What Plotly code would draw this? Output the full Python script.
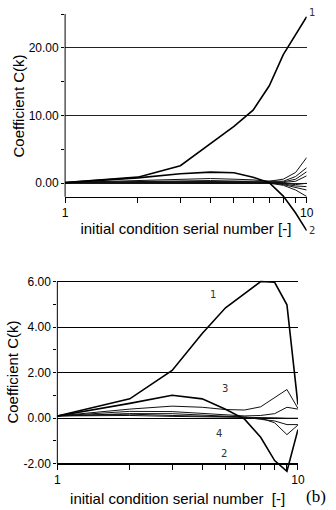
import plotly.graph_objects as go

k = [1, 2, 3, 4, 5, 6, 7, 8, 9, 10]

# Top chart (a) coefficients
top_thick = {
    "1": [0.1, 0.9, 2.6, 5.9, 8.4, 10.8, 14.4, 19.0, 22.0, 24.6],
    "2": [0.1, 0.8, 1.4, 1.65, 1.55, 0.9, 0.1, -1.9, -4.4, -7.0],
}
top_thin = [
    [0.1, 0.4, 0.6, 0.7, 0.6, 0.5, 0.3, 0.6, 1.6, 3.8],
    [0.1, 0.3, 0.4, 0.4, 0.3, 0.3, 0.2, 0.3, 1.0, 2.3],
    [0.1, 0.2, 0.3, 0.3, 0.3, 0.2, 0.2, 0.2, 0.6, 1.7],
    [0.1, 0.2, 0.2, 0.2, 0.2, 0.2, 0.1, 0.1, 0.3, 1.1],
    [0.1, 0.1, 0.1, 0.1, 0.1, 0.1, 0.1, 0.0, -0.2, 0.0],
    [0.1, 0.1, 0.1, 0.1, 0.1, 0.1, 0.1, -0.1, -0.4, -0.5],
    [0.1, 0.1, 0.1, 0.1, 0.1, 0.1, 0.1, -0.2, -0.6, -1.0],
    [0.1, 0.1, 0.1, 0.1, 0.1, 0.1, 0.0, -0.3, -1.0, -1.95],
]

# Bottom chart (b) coefficients
bot_thick = {
    "1": [0.1, 0.85, 2.1, 3.72, 4.85, 5.46, 6.0, 5.97, 4.98, 0.6],
    "2": [0.1, 0.65, 1.01, 0.85, 0.39, -0.04, -0.84, -1.86, -2.33, -0.5],
}
bot_thin = [
    [0.1, 0.4, 0.53, 0.48, 0.38, 0.36, 0.5, 0.9, 1.26, 0.43],
    [0.1, 0.3, 0.29, 0.22, 0.15, 0.1, 0.12, 0.2, 0.48, 0.4],
    [0.1, 0.2, 0.2, 0.15, 0.1, 0.05, 0.0, -0.2, -0.72, -0.3],
    [0.1, 0.18, 0.12, 0.1, 0.08, 0.05, -0.05, -0.12, -0.28, -0.28],
    [0.1, 0.12, 0.08, 0.07, 0.06, 0.05, 0.04, 0.02, 0.0, 0.0],
]

top_yticks = [0, 10, 20]
top_yminor = [5, 15, 25]
bot_yticks = [-2, 0, 2, 4, 6]
bot_yminor = [-1, 1, 3, 5]
x_ticks = [1, 10]
x_minor = [2, 3, 4, 5, 6, 7, 8, 9]

fig = go.Figure()
for ys in top_thin:
    fig.add_trace(go.Scatter(x=k, y=ys, mode="lines", line=dict(color="#111", width=1),
                             xaxis="x", yaxis="y", showlegend=False))
for name, ys in top_thick.items():
    fig.add_trace(go.Scatter(x=k, y=ys, mode="lines", line=dict(color="black", width=1.6),
                             xaxis="x", yaxis="y", showlegend=False))
for ys in bot_thin:
    fig.add_trace(go.Scatter(x=k, y=ys, mode="lines", line=dict(color="#111", width=1),
                             xaxis="x2", yaxis="y2", showlegend=False))
for name, ys in bot_thick.items():
    fig.add_trace(go.Scatter(x=k, y=ys, mode="lines", line=dict(color="black", width=1.6),
                             xaxis="x2", yaxis="y2", showlegend=False))

W, H = 336, 510
FONT = "Liberation Sans, Arial, sans-serif"

def px(y):
    return 1 - y / H

xcommon = dict(type="log", range=[0, 1], showgrid=False, zeroline=False,
               showline=True, linecolor="black", linewidth=1,
               tickvals=x_ticks, ticktext=[str(v) for v in x_ticks],
               ticks="outside", ticklen=5, tickcolor="black",
               minor=dict(tickvals=x_minor, ticks="outside", ticklen=5, tickcolor="black", showgrid=False),
               tickfont=dict(family=FONT, size=12, color="black"))

fig.update_layout(
    width=W, height=H, margin=dict(l=0, r=0, t=0, b=0),
    paper_bgcolor="white", plot_bgcolor="white",
    xaxis=dict(domain=[64 / W, 313 / W], anchor="free", position=px(193.7),
               title=dict(text="initial condition serial number [-]", standoff=4,
                          font=dict(family=FONT, size=15, color="black")),
               **xcommon),
    yaxis=dict(domain=[px(231.3), px(9.1)], range=[-7.5, 25], anchor="x",
               tickvals=top_yticks, ticktext=["%.2f" % v for v in top_yticks],
               ticks="outside", ticklen=3, tickcolor="black",
               minor=dict(tickvals=top_yminor, ticks="outside", ticklen=3, tickcolor="black", showgrid=False),
               showgrid=True, gridcolor="#222", gridwidth=1, zeroline=False, showline=False,
               tickfont=dict(family=FONT, size=12, color="black")),
    xaxis2=dict(domain=[56 / W, 304 / W], anchor="free", position=px(463.3),
                title=dict(text="initial condition serial number \u00a0[-]", standoff=7,
                           font=dict(family=FONT, size=15, color="black")),
                **xcommon),
    yaxis2=dict(domain=[px(474.8), px(277.0)], range=[-2.5, 6.1], anchor="x2",
                tickvals=bot_yticks, ticktext=["%.2f" % v for v in bot_yticks],
                ticks="outside", ticklen=3, tickcolor="black",
                minor=dict(tickvals=bot_yminor, ticks="outside", ticklen=3, tickcolor="black", showgrid=False),
                showgrid=True, gridcolor="black", gridwidth=1, zeroline=False, showline=False,
                tickfont=dict(family=FONT, size=12, color="black")),
    shapes=[
        dict(type="line", xref="x domain", yref="y", x0=0, x1=0, y0=-2, y1=25,
             line=dict(color="black", width=1)),
        dict(type="line", xref="x2 domain", yref="y2", x0=0, x1=0, y0=-2, y1=6,
             line=dict(color="black", width=1)),
    ],
)

ann = []
def add(text, xx, yy, font, angle=0):
    ann.append(dict(text=text, x=xx / W, y=px(yy), xref="paper", yref="paper",
                    xanchor="center", yanchor="middle", textangle=angle,
                    showarrow=False, font=font))

title_font = dict(family=FONT, size=15, color="black")
add("Coefficient C(k)", 16, 102, title_font, -90)
add("Coefficient C(k)", 9.5, 371, title_font, -90)
lab = dict(family="DejaVu Sans, sans-serif", size=10, color="#333")
for t, (xx, yy) in {"1": (318, 8), "2": (318, 228)}.items():
    add(t, xx, yy, lab)
for t, (xx, yy) in {"1": (216, 292), "3": (229, 387), "4": (223, 433), "2": (228, 453)}.items():
    add(t, xx, yy, lab)
add("(b)", 323, 496, dict(family="Liberation Serif, Times New Roman, serif", size=17, color="black"))
fig.update_layout(annotations=ann)

fig.write_html("out.html")
